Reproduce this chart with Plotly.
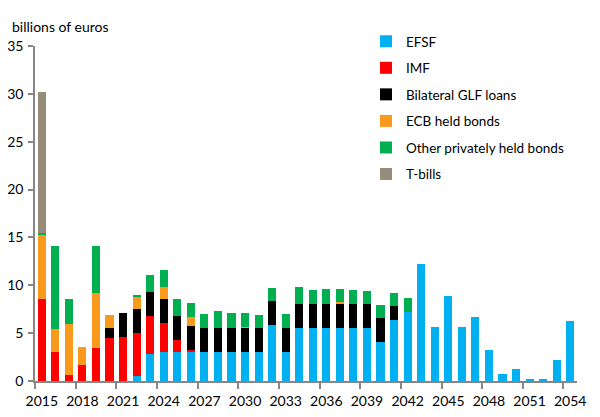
import plotly.graph_objects as go

years = list(range(2015, 2055))

efsf = [0, 0, 0, 0, 0, 0, 0, 0.52, 2.82, 3.03, 3.03, 3.03, 3.03, 3.03, 3.03, 3.03, 3.03, 5.85, 3.03, 5.54,
        5.54, 5.54, 5.54, 5.54, 5.54, 4.07, 6.37, 7.21, 12.22, 5.64, 8.88, 5.64, 6.69, 3.24, 0.73, 1.25,
        0.21, 0.21, 2.19, 6.27]
imf = [8.57, 3.03, 0.63, 1.67, 3.45, 4.49, 4.6, 4.48, 3.97, 3.03, 1.25, 0.21, 0, 0, 0, 0, 0, 0, 0, 0,
       0, 0, 0, 0, 0, 0, 0, 0, 0, 0, 0, 0, 0, 0, 0, 0, 0, 0, 0, 0]
glf = [0, 0, 0, 0, 0, 1.05, 2.5, 2.52, 2.51, 2.51, 2.51, 2.51, 2.51, 2.51, 2.51, 2.51, 2.51, 2.51, 2.51, 2.5,
       2.5, 2.5, 2.5, 2.5, 2.5, 2.51, 1.47, 0, 0, 0, 0, 0, 0, 0, 0, 0, 0, 0, 0, 0]
ecb = [6.68, 2.4, 5.33, 1.88, 5.74, 1.36, 0, 1.36, 0, 1.25, 0, 0.94, 0, 0, 0, 0.11, 0, 0, 0, 0,
       0, 0, 0.21, 0, 0, 0, 0, 0, 0, 0, 0, 0, 0, 0, 0, 0, 0, 0, 0, 0]
other = [0.21, 8.67, 2.61, 0, 4.91, 0, 0, 0.11, 1.77, 1.78, 1.78, 1.46, 1.46, 1.77, 1.56, 1.45, 1.36, 1.36, 1.46, 1.78,
         1.47, 1.57, 1.36, 1.47, 1.36, 1.36, 1.35, 1.46, 0, 0, 0, 0, 0, 0, 0, 0, 0, 0, 0, 0]
tbills = [14.74] + [0] * 39

series_names = ["EFSF", "IMF", "Bilateral GLF loans", "ECB held bonds", "Other privately held bonds", "T-bills"]
series_values = [efsf, imf, glf, ecb, other, tbills]
series_colors = ["#00B0F0", "#FF0000", "#000000", "#F99A1C", "#00B050", "#968C7A"]

tick_labels = list(range(2015, 2055, 3))
tick_boundaries = [y - 0.5 for y in tick_labels]

fig = go.Figure()
for i, (name, vals, col) in enumerate(zip(series_names, series_values, series_colors)):
    fig.add_trace(go.Bar(x=years, y=vals, name=name, marker=dict(color=col, line=dict(width=0)),
                         width=0.6, legendgroup=name))

axis_color = "#868686"
font_family = "Lato, 'Noto Sans', sans-serif"

W, H = 592, 409  # page body adds an 8px margin

fig.update_layout(
    width=W, height=H,
    barmode="stack",
    plot_bgcolor="white", paper_bgcolor="white",
    margin=dict(l=27, r=23, t=38, b=36, autoexpand=False),
    font=dict(family=font_family, size=13, color="#000000"),
    showlegend=True,
    legend=dict(xref="container", yref="container", x=358 / W, y=1 - 18 / H,
                xanchor="left", yanchor="top", traceorder="grouped",
                tracegroupgap=6, font=dict(size=13.5), bgcolor="rgba(0,0,0,0)",
                itemwidth=30),
    xaxis=dict(range=[2014.5, 2054.5], tickmode="array", tickvals=tick_labels,
               ticktext=[str(t) for t in tick_labels], ticks="", showgrid=False,
               showline=True, linecolor=axis_color, linewidth=1.5, zeroline=False,
               tickfont=dict(size=14), ticklabelstandoff=6, automargin=False,
               minor=dict(tickmode="array", tickvals=tick_boundaries, ticks="outside",
                          ticklen=6, tickcolor=axis_color, tickwidth=1.5, showgrid=False)),
    yaxis=dict(range=[0, 35], tickmode="linear", tick0=0, dtick=5, ticks="outside",
               ticklen=5, tickcolor=axis_color, tickwidth=1.5, showgrid=False,
               showline=True, linecolor=axis_color, linewidth=1.5, zeroline=False,
               tickfont=dict(size=14), ticklabelstandoff=2, automargin=False),
    annotations=[dict(text="billions of euros", xref="paper", yref="paper",
                      x=-25 / 542, y=1 + 19 / 335, xanchor="left", yanchor="middle",
                      showarrow=False, font=dict(size=14))],
)

fig.write_html("out.html")
